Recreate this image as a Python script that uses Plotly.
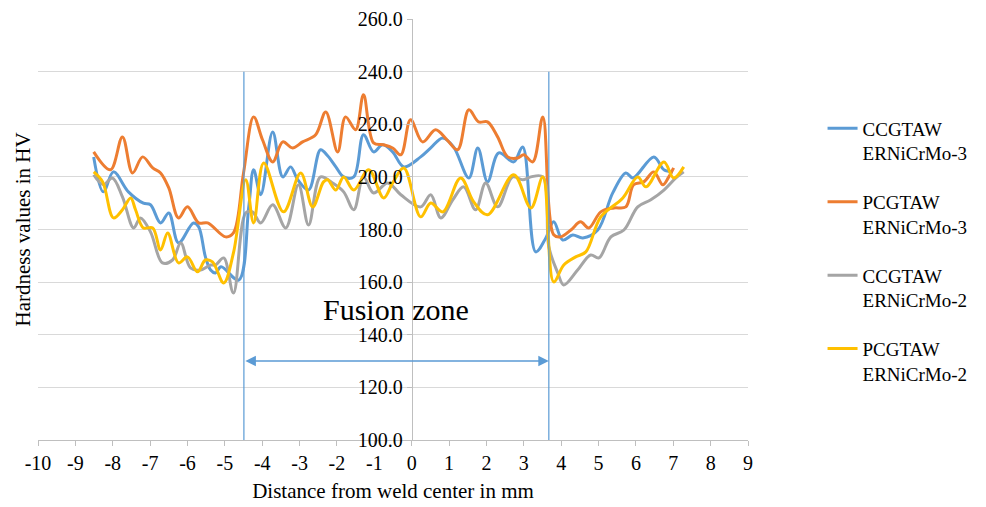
import plotly.graph_objects as go

# ---------------- data ----------------
cc3_x = [-8.51, -8.25, -7.98, -7.58, -7.18, -6.99, -6.72, -6.5, -6.24, -5.84, -5.7, -5.52, -5.38, -5.25, -5.1,
         -4.63, -4.36, -4.23, -4.04, -3.72, -3.45, -3.24, -3.05, -2.76, -2.44, -2.25, -2.03, -1.82, -1.55, -1.29,
         -1.02, -0.78, -0.51, -0.21, 0.24, 0.51, 0.83, 1.12, 1.53, 1.77, 2.03, 2.33, 2.73, 2.97, 3.32, 3.59, 3.8,
         4.04, 4.31, 4.58, 4.98, 5.38, 5.73, 5.92, 6.48, 6.75, 6.99]
cc3_y = [207.6, 194.3, 201.9, 194.3, 190.0, 189.4, 182.5, 186.3, 174.9, 182.5, 181.0, 169.6, 164.6, 163.5, 165.8,
         160.8, 188.6, 202.7, 193.2, 217.1, 200.0, 203.8, 198.9, 195.0, 210.3, 208.0, 203.8, 200.0, 200.0, 216.0,
         209.5, 212.2, 209.5, 203.8, 207.6, 211.0, 214.8, 211.4, 199.6, 211.0, 198.1, 209.1, 205.7, 211.4, 171.5, 176.8, 182.9,
         176.0, 177.9, 176.8, 179.8, 193.9, 201.5, 199.6, 207.6, 202.7, 201.9]

pc3_x = [-8.51, -8.06, -7.74, -7.47, -7.2, -6.93, -6.72, -6.5, -6.24, -6.0, -5.7, -5.46, -4.98, -4.77, -4.5,
         -4.23, -3.99, -3.72, -3.45, -3.19, -2.92, -2.57, -2.3, -1.98, -1.77, -1.5, -1.29, -1.02, -0.75, -0.51,
         -0.29, -0.03, 0.29, 0.64, 0.95, 1.23, 1.53, 1.79, 2.03, 2.3, 2.57, 2.84, 3.0, 3.24, 3.51, 3.8,
         3.99, 4.26, 4.52, 4.74, 5.06, 5.41, 5.73, 5.94, 6.21, 6.48, 6.72, 6.88, 7.01]
pc3_y = [209.5, 202.7, 215.2, 201.5, 207.6, 203.4, 201.5, 195.8, 184.4, 188.6, 182.5, 182.5, 177.2, 178.7, 201.5,
         222.8, 214.0, 205.7, 213.3, 211.0, 213.3, 216.0, 224.7, 209.5, 222.8, 217.9, 231.2, 212.9, 212.2, 211.0,
         208.4, 221.7, 213.3, 217.9, 214.0, 210.3, 225.5, 220.9, 220.9, 215.2, 207.6, 207.2, 208.4, 205.7, 222.8, 178.0,
         177.2, 179.8, 182.9, 180.6, 186.7, 188.2, 188.6, 197.0, 198.1, 201.9, 197.0, 200.0, 203.4]

cc2_x = [-8.51, -8.25, -8.01, -7.74, -7.44, -7.26, -6.99, -6.67, -6.4, -6.18, -5.92, -5.65, -5.38, -5.25, -5.03,
         -4.77, -4.44, -4.26, -4.04, -3.72, -3.37, -3.03, -2.76, -2.44, -2.12, -1.82, -1.55, -1.29, -1.02, -0.64,
         -0.29, 0.24, 0.51, 0.78, 1.1, 1.39, 1.71, 1.98, 2.3, 2.7, 2.97, 3.19, 3.51, 3.67,
         3.91, 4.07, 4.44, 4.79, 5.01, 5.33, 5.68, 6.05, 6.4, 6.75, 7.07, 7.28]
cc2_y = [200.8, 197.0, 199.6, 192.4, 180.6, 184.4, 179.1, 167.3, 168.4, 174.9, 165.4, 164.6, 166.5, 166.5, 169.2,
         155.9, 186.3, 186.7, 182.5, 189.4, 180.6, 197.0, 181.7, 200.0, 197.7, 194.3, 187.5, 200.0, 193.9, 197.7,
         193.2, 188.6, 193.2, 184.4, 191.3, 196.2, 187.5, 197.7, 188.6, 200.0, 198.9, 200.0, 200.0, 173.4,
         163.5, 158.9, 164.6, 170.3, 169.2, 177.2, 179.8, 188.6, 191.3, 195.0, 199.6, 201.9]

pc2_x = [-8.51, -8.27, -7.98, -7.74, -7.52, -7.39, -7.18, -6.93, -6.72, -6.53, -6.24, -6.0, -5.73, -5.52, -5.33,
         -5.03, -4.77, -4.44, -4.23, -3.96, -3.43, -2.97, -2.65, -2.36, -2.25, -2.03, -1.82, -1.55, -1.15, -0.75,
         -0.51, -0.21, 0.24, 0.51, 0.83, 1.31, 1.66, 2.03, 2.73, 3.19, 3.51, 3.8,
         4.07, 4.39, 4.66, 5.06, 5.65, 6.05, 6.27, 6.75, 7.01, 7.28]
pc2_y = [201.9, 198.1, 184.4, 187.5, 192.0, 187.5, 180.6, 180.6, 172.2, 178.7, 167.3, 169.6, 163.9, 168.4, 167.7,
         159.7, 171.1, 198.9, 182.5, 205.3, 186.7, 201.5, 188.6, 198.1, 198.9, 195.0, 200.0, 195.0, 202.7, 192.0,
         197.7, 203.4, 184.8, 190.1, 186.7, 199.6, 190.5, 185.6, 200.8, 188.2, 200.0, 160.1,
         166.5, 169.6, 171.5, 184.8, 192.0, 200.0, 196.2, 205.7, 199.6, 203.8]

series_names = ["CCGTAW<br>ERNiCrMo-3", "PCGTAW<br>ERNiCrMo-3", "CCGTAW<br>ERNiCrMo-2", "PCGTAW<br>ERNiCrMo-2"]
series_colors = ["#5B9BD5", "#ED7D31", "#A5A5A5", "#FFC000"]
x_ticks = list(range(-10, 10))
y_ticks = [100, 120, 140, 160, 180, 200, 220, 240, 260]
fusion_zone = [-4.49, 3.67]
arrow_level = 130
zone_top = 240
zone_label = "Fusion zone"

FONT = "Liberation Serif, Times New Roman, serif"

fig = go.Figure()
for i, (xs, ys) in enumerate([(cc3_x, cc3_y), (pc3_x, pc3_y), (cc2_x, cc2_y), (pc2_x, pc2_y)]):
    fig.add_trace(go.Scatter(
        x=xs, y=ys, mode="lines", name=series_names[i], legendgroup=f"g{i}",
        line=dict(color=series_colors[i], width=3, shape="spline", smoothing=1.0),
    ))

# fusion zone boundaries
for xv in fusion_zone:
    fig.add_shape(type="line", xref="x", yref="y", x0=xv, x1=xv, y0=100, y1=zone_top,
                  line=dict(color="#5B9BD5", width=1.2), layer="above")

fig.add_annotation(x=fusion_zone[1], y=arrow_level, ax=fusion_zone[0], ay=arrow_level,
                   xref="x", yref="y", axref="x", ayref="y", text="", showarrow=True,
                   arrowhead=2, startarrowhead=2, arrowside="end+start",
                   arrowwidth=1.5, arrowsize=1.4, startarrowsize=1.4, arrowcolor="#5B9BD5")

fig.add_annotation(x=-0.43, y=149.5, xref="x", yref="y", text=zone_label, showarrow=False,
                   font=dict(family=FONT, size=30, color="black"))

fig.add_annotation(x=-0.0225, y=0.5, xref="paper", yref="paper", xanchor="center", yanchor="middle",
                   text="Hardness values in HV",
                   textangle=-90, showarrow=False, font=dict(family=FONT, size=21, color="black"))

fig.update_layout(
    width=986, height=507,
    margin=dict(l=38, r=238, t=19, b=67, autoexpand=False),
    paper_bgcolor="white", plot_bgcolor="white",
    font=dict(family=FONT, size=20, color="black"),
    showlegend=True,
    legend=dict(x=1.105, y=0.785, xanchor="left", yanchor="top", valign="top",
                tracegroupgap=21, font=dict(family=FONT, size=19, color="black"),
                bgcolor="rgba(0,0,0,0)"),
    xaxis=dict(range=[-10, 9], tickvals=x_ticks, ticktext=[str(v) for v in x_ticks],
               showgrid=False, zeroline=False, showline=True, linecolor="#BFBFBF", linewidth=1,
               ticks="outside", ticklen=5, tickcolor="#BFBFBF", automargin=False,
               title=dict(text="Distance from weld center in mm", standoff=10,
                          font=dict(family=FONT, size=21)),
               tickfont=dict(family=FONT, size=20)),
    yaxis=dict(range=[100, 260], tickvals=y_ticks, tickformat=".1f",
               showgrid=True, gridcolor="#D9D9D9", gridwidth=1, zeroline=False,
               showline=True, linecolor="#BFBFBF", linewidth=1,
               ticks="outside", ticklen=5, tickcolor="#BFBFBF", automargin=False,
               anchor="free", position=10/19,
               tickfont=dict(family=FONT, size=20)),
)

fig.write_html("out.html")
